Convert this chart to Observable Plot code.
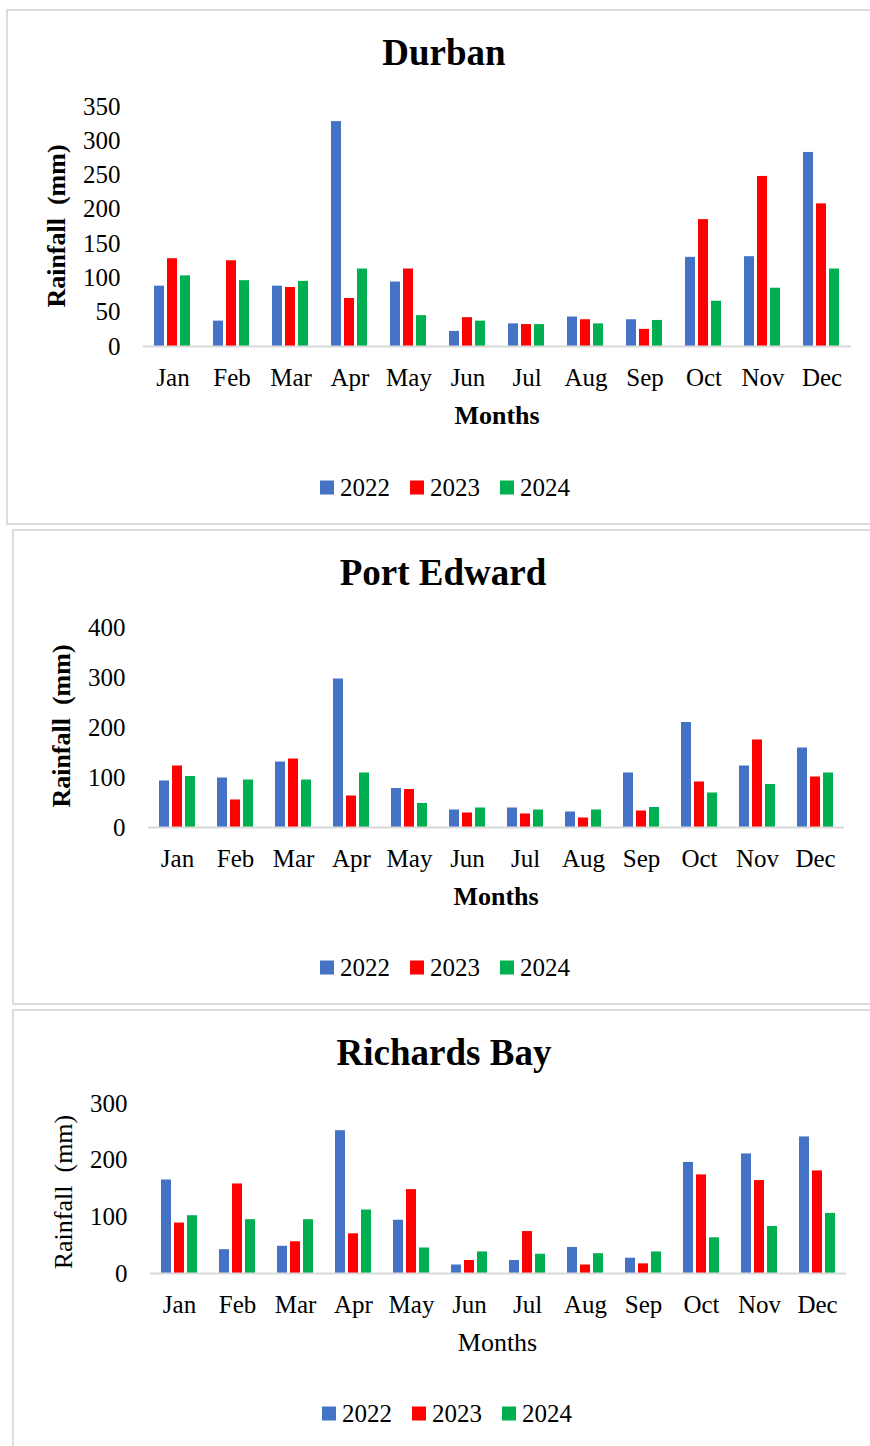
<!DOCTYPE html>
<html>
<head>
<meta charset="utf-8">
<script src="https://cdn.jsdelivr.net/npm/d3@7"></script>
<script src="https://cdn.jsdelivr.net/npm/@observablehq/plot@0.6"></script>
<style>
  html, body { margin: 0; padding: 0; background: #fff; }
  body { width: 870px; height: 1446px; position: relative; overflow: hidden;
         font-family: "Liberation Serif", "Times New Roman", serif; color: #000; }
  .panel { position: absolute; border: 2px solid #dcdcdc; box-sizing: border-box; }
  .title { position: absolute; transform: translate(-50%, -50%); font-weight: bold;
           font-size: 37px; line-height: 1; white-space: nowrap; }
  .ylab { position: absolute; transform: translate(-50%, -50%) rotate(-90deg);
          font-size: 26px; line-height: 1; white-space: pre; }
  .xlab { position: absolute; transform: translate(-50%, -50%); font-size: 26px;
          line-height: 1; white-space: nowrap; }
  .bold { font-weight: bold; }
  .legend { position: absolute; display: flex; align-items: center; font-size: 25px;
            line-height: 1; transform: translateY(-50%); white-space: nowrap; }
  .legend .item { display: flex; align-items: center; margin-right: 20px; }
  .legend .sw { width: 14px; height: 14px; margin-right: 6px; }
  .chart { position: absolute; left: 0; }
  .chart text { font-variant-numeric: normal; }
</style>
</head>
<body>
<script>
// Monthly rainfall (mm) for three KwaZulu-Natal stations, 2022–2024
const months = ["Jan", "Feb", "Mar", "Apr", "May", "Jun", "Jul", "Aug", "Sep", "Oct", "Nov", "Dec"];
const years = ["2022", "2023", "2024"];
const yearColors = ["#4472C4", "#FF0000", "#00B050"];

const durban2022 = [88, 37, 88, 328, 94, 22, 33, 43, 39, 130, 131, 283];
const durban2023 = [128, 125, 86, 70, 113, 42, 32, 39, 25, 185, 248, 208];
const durban2024 = [103, 96, 95, 113, 45, 37, 32, 33, 38, 66, 85, 113];

const portEdward2022 = [93, 99, 131, 297, 78, 35, 39, 31, 109, 210, 123, 159];
const portEdward2023 = [123, 55, 137, 63, 76, 29, 27, 19, 33, 91, 175, 101];
const portEdward2024 = [102, 95, 95, 109, 48, 39, 35, 35, 40, 69, 86, 109];

const richardsBay2022 = [165, 42, 48, 252, 94, 15, 23, 46, 27, 196, 211, 241];
const richardsBay2023 = [89, 158, 56, 70, 148, 23, 74, 15, 17, 174, 164, 181];
const richardsBay2024 = [102, 95, 95, 112, 45, 38, 34, 35, 38, 63, 83, 106];

const durbanTicks = [0, 50, 100, 150, 200, 250, 300, 350];
const portEdwardTicks = [0, 100, 200, 300, 400];
const richardsBayTicks = [0, 100, 200, 300];

// long-format rows for one station
function rows(series) {
  return series.flatMap((values, i) =>
    values.map((v, m) => ({month: months[m], year: years[i], value: v})));
}

function el(tag, cls, text) {
  const e = document.createElement(tag);
  if (cls) e.className = cls;
  if (text != null) e.textContent = text;
  document.body.appendChild(e);
  return e;
}

const panels = [
  {
    name: "Durban", box: {left: 6, top: 9, height: 516},
    titleX: 444, titleY: 52,
    series: [durban2022, durban2023, durban2024], ticks: durbanTicks,
    svgTop: 80, plotTop: 106, baseline: 346, plotLeft: 142, plotRight: 852,
    ylabX: 57, ylabY: 226, boldLabels: true, monthsY: 416, legendX: 320, legendY: 487
  },
  {
    name: "Port Edward", box: {left: 12, top: 529, height: 476},
    titleX: 443, titleY: 572,
    series: [portEdward2022, portEdward2023, portEdward2024], ticks: portEdwardTicks,
    svgTop: 600, plotTop: 627, baseline: 827, plotLeft: 148, plotRight: 844,
    ylabX: 62, ylabY: 726, boldLabels: true, monthsY: 897, legendX: 320, legendY: 967
  },
  {
    name: "Richards Bay", box: {left: 12, top: 1009, height: 460},
    titleX: 444, titleY: 1052,
    series: [richardsBay2022, richardsBay2023, richardsBay2024], ticks: richardsBayTicks,
    svgTop: 1080, plotTop: 1103, baseline: 1273, plotLeft: 148, plotRight: 847,
    ylabX: 64, ylabY: 1192, boldLabels: false, monthsY: 1343, legendX: 322, legendY: 1413
  }
];

for (const p of panels) {
  const box = el("div", "panel");
  Object.assign(box.style, {left: p.box.left + "px", top: p.box.top + "px",
    width: (880 - p.box.left) + "px", height: p.box.height + "px"});

  const title = el("div", "title", p.name);
  Object.assign(title.style, {left: p.titleX + "px", top: p.titleY + "px"});

  const marginTop = p.plotTop - p.svgTop;
  const marginBottom = 60;
  const height = p.baseline - p.svgTop + marginBottom;
  const yMax = p.ticks[p.ticks.length - 1];

  const chart = Plot.plot({
    width: 870,
    height,
    marginLeft: p.plotLeft,
    marginRight: 870 - p.plotRight,
    marginTop,
    marginBottom,
    style: {fontFamily: "Liberation Serif, Times New Roman, serif", fontSize: "25px",
            color: "#000", background: "transparent", overflow: "visible"},
    fx: {domain: months, padding: 0, axis: "bottom", tickSize: 0, tickPadding: 22, label: null},
    x: {domain: years, paddingInner: 0.2, paddingOuter: 0.82, axis: null},
    y: {domain: [0, yMax], ticks: p.ticks, tickSize: 0, tickPadding: 23, label: null},
    color: {domain: years, range: yearColors},
    marks: [
      Plot.barY(rows(p.series), {fx: "month", x: "year", y: "value", fill: "year"}),
      Plot.ruleY([0], {stroke: "#d9d9d9", strokeWidth: 2})
    ]
  });
  chart.classList.add("chart");
  chart.style.top = p.svgTop + "px";
  chart.style.maxWidth = "none";
  document.body.appendChild(chart);

  const ylab = el("div", "ylab" + (p.boldLabels ? " bold" : ""), "Rainfall  (mm)");
  Object.assign(ylab.style, {left: p.ylabX + "px", top: p.ylabY + "px"});

  const xlab = el("div", "xlab" + (p.boldLabels ? " bold" : ""), "Months");
  Object.assign(xlab.style, {left: ((p.plotLeft + p.plotRight) / 2) + "px", top: p.monthsY + "px"});

  const legend = el("div", "legend");
  Object.assign(legend.style, {left: p.legendX + "px", top: p.legendY + "px"});
  years.forEach((yr, i) => {
    const item = document.createElement("div");
    item.className = "item";
    const sw = document.createElement("div");
    sw.className = "sw";
    sw.style.background = yearColors[i];
    const t = document.createElement("span");
    t.textContent = yr;
    item.appendChild(sw);
    item.appendChild(t);
    legend.appendChild(item);
  });
}
</script>
</body>
</html>
